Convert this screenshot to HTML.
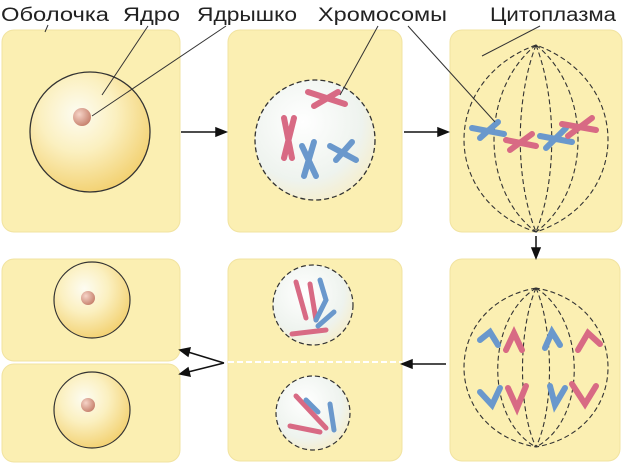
<!DOCTYPE html>
<html><head><meta charset="utf-8"><style>
html,body{margin:0;padding:0;background:#fff;width:628px;height:469px;overflow:hidden}
text{font-family:"Liberation Sans","DejaVu Sans",sans-serif;font-size:19px;fill:#222}
</style></head><body>
<svg width="628" height="469" viewBox="0 0 628 469">
<defs>
<radialGradient id="cellg" cx="0.4" cy="0.35" r="0.7"><stop offset="0" stop-color="#fdfcf2"/><stop offset="0.45" stop-color="#fbf0c0"/><stop offset="1" stop-color="#f2cf6c"/></radialGradient>
<radialGradient id="nucg" cx="0.4" cy="0.35" r="0.7"><stop offset="0" stop-color="#fff"/><stop offset="0.7" stop-color="#eef3ee"/><stop offset="1" stop-color="#f6eecc"/></radialGradient>
<radialGradient id="nolg" cx="0.35" cy="0.35" r="0.7"><stop offset="0" stop-color="#f6d4c8"/><stop offset="1" stop-color="#c6806c"/></radialGradient>
</defs>
<g>
<text x="1" y="21" textLength="108" lengthAdjust="spacingAndGlyphs">Оболочка</text>
<text x="123" y="21" textLength="57" lengthAdjust="spacingAndGlyphs">Ядро</text>
<text x="197" y="21" textLength="100" lengthAdjust="spacingAndGlyphs">Ядрышко</text>
<text x="318" y="21" textLength="129" lengthAdjust="spacingAndGlyphs">Хромосомы</text>
<text x="490" y="21" textLength="126" lengthAdjust="spacingAndGlyphs">Цитоплазма</text>
</g>
<g fill="#fbefb2" stroke="#f1e3a0">
<rect x="2" y="30" width="178" height="202" rx="12"/>
<rect x="228" y="30" width="174" height="202" rx="12"/>
<rect x="450" y="30" width="172" height="202" rx="12"/>
<rect x="450" y="259" width="170" height="202" rx="12"/>
<rect x="228" y="259" width="174" height="202" rx="12"/>
<rect x="2" y="259" width="178" height="102" rx="12"/>
<rect x="2" y="364" width="178" height="98" rx="12"/>
</g>
<line x1="228" y1="362" x2="402" y2="362" stroke="#fff" stroke-width="2" stroke-dasharray="6,3"/>
<circle cx="90" cy="132" r="60" fill="url(#cellg)" stroke="#333" stroke-width="1.3"/>
<circle cx="82" cy="117" r="9" fill="url(#nolg)"/>
<circle cx="92" cy="300" r="38" fill="url(#cellg)" stroke="#333" stroke-width="1.2"/>
<circle cx="88" cy="298" r="7" fill="url(#nolg)"/>
<circle cx="92" cy="410" r="38" fill="url(#cellg)" stroke="#333" stroke-width="1.2"/>
<circle cx="88" cy="405" r="7" fill="url(#nolg)"/>
<circle cx="315" cy="140" r="60" fill="url(#nucg)" stroke="#333" stroke-width="1.3" stroke-dasharray="5,3"/>
<g stroke-linecap="round" stroke-width="6" fill="none">
<path d="M308 92 L345 104 M314 106 L338 92" stroke="#d86a84"/>
<path d="M284 118 L292 158 M294 118 L284 158" stroke="#d86a84"/>
<path d="M302 146 L316 176 M314 142 L304 176" stroke="#6a98cc"/>
<path d="M330 146 L356 160 M336 160 L352 142" stroke="#6a98cc"/>
</g>
<circle cx="313" cy="305" r="40" fill="url(#nucg)" stroke="#333" stroke-width="1.2" stroke-dasharray="5,3"/>
<circle cx="313" cy="413" r="37" fill="url(#nucg)" stroke="#333" stroke-width="1.2" stroke-dasharray="5,3"/>
<g stroke-linecap="round" stroke-width="5" fill="none">
<path d="M296 282 L306 318 M292 334 L326 330 M310 284 L316 320" stroke="#d86a84"/>
<path d="M320 280 L326 300 L316 320 M334 312 L318 326" stroke="#6a98cc"/>
<path d="M296 396 L326 428 M290 426 L320 432" stroke="#d86a84"/>
<path d="M306 400 L318 412 M330 404 L334 430" stroke="#6a98cc"/>
</g>
<g fill="none" stroke="#333" stroke-width="1.1" stroke-dasharray="5,3">
<path d="M536 45 C440 80 440 200 536 232 C632 200 632 80 536 45 Z"/>
<path d="M536 45 C480 90 480 190 536 232 M536 45 C592 90 592 190 536 232 M536 45 C515 100 515 180 536 232 M536 45 C557 100 557 180 536 232"/>
<path d="M536 288 C440 305 440 430 536 447 C632 430 632 305 536 288 Z"/>
<path d="M536 288 C485 320 485 420 536 447 M536 288 C587 320 587 420 536 447 M536 288 C518 330 518 410 536 447 M536 288 C554 330 554 410 536 447"/>
</g>
<g stroke-linecap="round" stroke-width="6" fill="none">
<path d="M472 128 L504 134 M480 138 L498 122" stroke="#6a98cc"/>
<path d="M506 140 L536 146 M510 150 L532 134" stroke="#d86a84"/>
<path d="M540 136 L572 142 M546 148 L566 128" stroke="#6a98cc"/>
<path d="M562 124 L596 130 M568 136 L592 118" stroke="#d86a84"/>
<path d="M480 340 L490 332 L498 345" stroke="#6a98cc"/>
<path d="M506 350 L514 333 L522 350" stroke="#d86a84"/>
<path d="M545 348 L552 332 L560 345" stroke="#6a98cc"/>
<path d="M578 350 L588 333 L600 344" stroke="#d86a84"/>
<path d="M480 392 L492 405 L500 388" stroke="#6a98cc"/>
<path d="M508 388 L517 408 L526 386" stroke="#d86a84"/>
<path d="M550 386 L555 405 L565 388" stroke="#6a98cc"/>
<path d="M572 384 L585 404 L596 386" stroke="#d86a84"/>
</g>
<g stroke="#333" stroke-width="1">
<line x1="48" y1="25" x2="45" y2="32"/>
<line x1="148" y1="26" x2="102" y2="95"/>
<line x1="226" y1="26" x2="92" y2="116"/>
<line x1="378" y1="26" x2="340" y2="95"/>
<line x1="408" y1="26" x2="495" y2="122"/>
<line x1="540" y1="26" x2="482" y2="56"/>
</g>
<g stroke="#111" stroke-width="1.5" fill="#111">
<line x1="181" y1="132" x2="218" y2="132"/><path d="M226 132 L216 128 L216 136 Z"/>
<line x1="404" y1="132" x2="440" y2="132"/><path d="M448 132 L438 128 L438 136 Z"/>
<line x1="536" y1="236" x2="536" y2="250"/><path d="M536 258 L532 248 L540 248 Z"/>
<line x1="446" y1="364" x2="410" y2="364"/><path d="M402 364 L412 360 L412 368 Z"/>
<path d="M224 363 L188 352 M224 363 L188 372" fill="none"/>
<path d="M180 350 L190 348 L188 356 Z"/><path d="M180 374 L188 368 L190 376 Z"/>
</g>
</svg>
</body></html>
